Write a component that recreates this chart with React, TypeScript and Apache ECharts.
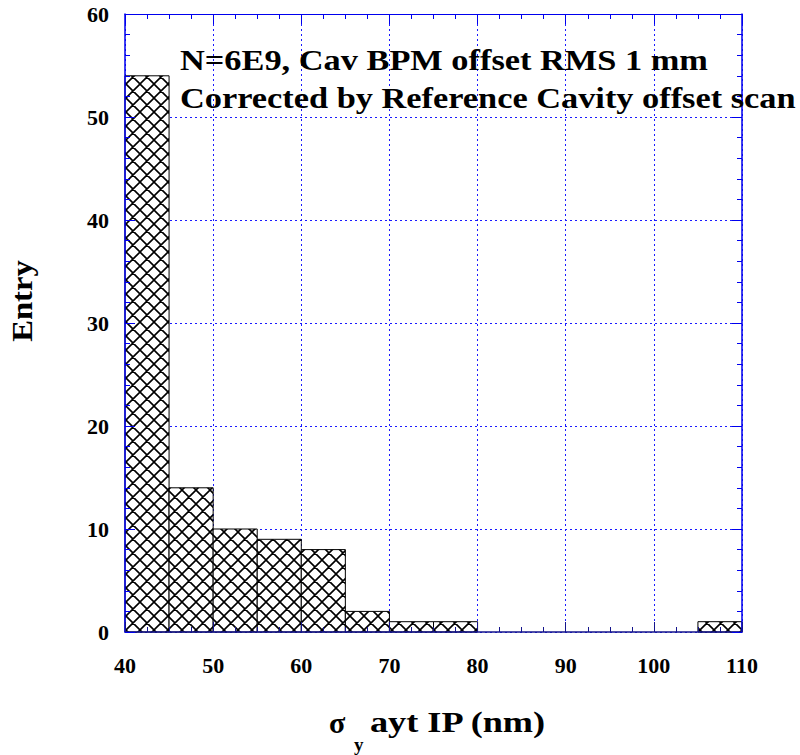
import React, { useEffect, useRef } from "react";
import * as echarts from "echarts";

const binStarts = [40, 45, 50, 55, 60, 65, 70, 75, 105];
const binWidth = 5;
const counts = [54, 14, 10, 9, 8, 2, 1, 1, 1];
const annotationLines = [
  "N=6E9, Cav BPM offset RMS 1 mm",
  "Corrected by Reference Cavity offset scan",
];
const yTitle = "Entry";
const xTitleSymbol = "σ";
const xTitleSub = "y";
const xTitleRest = "ayt IP (nm)";

const FONT = "'Liberation Serif', 'Times New Roman', serif";
const AXIS_BLUE = "#0000ee";
const AXIS_NAVY = "#14148c";

function makeHatch(): string {
  const s = 14;
  const c = document.createElement("canvas");
  c.width = s;
  c.height = s;
  const ctx = c.getContext("2d")!;
  ctx.fillStyle = "#fff";
  ctx.fillRect(0, 0, s, s);
  ctx.strokeStyle = "#000";
  ctx.lineWidth = 1.6;
  ctx.beginPath();
  for (const o of [-s, 0, s]) {
    ctx.moveTo(o, 0);
    ctx.lineTo(o + s, s);
    ctx.moveTo(o + s, 0);
    ctx.lineTo(o, s);
  }
  ctx.stroke();
  return c.toDataURL();
}

export default function App() {
  const ref = useRef<HTMLDivElement>(null);
  useEffect(() => {
    if (!ref.current) return;
    const chart = echarts.init(ref.current, null, { renderer: "svg" });
    const hatch = makeHatch();
    const data = binStarts.map((b, i) => [b, b + binWidth, counts[i]]);
    const labelStyle = {
      fontFamily: FONT,
      fontWeight: "bold" as const,
      fontSize: 22,
      color: "#000",
    };
    const gridSplit = {
      show: true,
      lineStyle: { color: "#1a1aff", type: [2, 3] as any, width: 1 },
    };
    const textBase = {
      fontFamily: FONT,
      fontWeight: "bold",
      fill: "#000",
    };
    chart.setOption({
      animation: false,
      backgroundColor: "#fff",
      grid: { left: 125, right: 58, top: 14, bottom: 123 },
      xAxis: [
        {
          type: "value",
          position: "bottom",
          min: 40,
          max: 110,
          interval: 10,
          z: 10,
          axisLine: { show: true, lineStyle: { color: AXIS_NAVY, width: 1.5 } },
          axisTick: { show: true, inside: true, length: 10, lineStyle: { color: AXIS_NAVY } },
          minorTick: { show: true, splitNumber: 4, length: 5, lineStyle: { color: AXIS_NAVY } },
          axisLabel: { ...labelStyle, margin: 22 },
          splitLine: { show: false },
        },
        {
          type: "value",
          position: "top",
          min: 40,
          max: 110,
          interval: 10,
          z: 10,
          axisLine: { show: true, onZero: false, lineStyle: { color: AXIS_BLUE, width: 1 } },
          axisTick: { show: true, inside: true, length: 10, lineStyle: { color: AXIS_BLUE } },
          minorTick: { show: true, splitNumber: 4, length: 5, lineStyle: { color: AXIS_BLUE } },
          axisLabel: { show: false },
          splitLine: { show: false },
        },
        {
          type: "value",
          position: "bottom",
          min: 40,
          max: 110,
          interval: 10,
          z: 0,
          axisLine: { show: false },
          axisTick: { show: false },
          axisLabel: { show: false },
          splitLine: gridSplit,
        },
      ],
      yAxis: [
        {
          type: "value",
          position: "left",
          min: 0,
          max: 60,
          interval: 10,
          z: 10,
          axisLine: { show: true, onZero: false, lineStyle: { color: AXIS_BLUE, width: 1.5 } },
          axisTick: { show: true, inside: true, length: 10, lineStyle: { color: AXIS_BLUE } },
          minorTick: { show: true, splitNumber: 5, length: 5, lineStyle: { color: AXIS_BLUE } },
          axisLabel: { ...labelStyle, margin: 16 },
          splitLine: { show: false },
        },
        {
          type: "value",
          position: "right",
          min: 0,
          max: 60,
          interval: 10,
          z: 10,
          axisLine: { show: true, onZero: false, lineStyle: { color: AXIS_BLUE, width: 1.5 } },
          axisTick: { show: true, inside: true, length: 10, lineStyle: { color: AXIS_BLUE } },
          minorTick: { show: true, splitNumber: 5, length: 5, lineStyle: { color: AXIS_BLUE } },
          axisLabel: { show: false },
          splitLine: { show: false },
        },
        {
          type: "value",
          position: "left",
          min: 0,
          max: 60,
          interval: 10,
          z: 0,
          axisLine: { show: false },
          axisTick: { show: false },
          axisLabel: { show: false },
          splitLine: gridSplit,
        },
      ],
      series: [
        {
          type: "custom",
          xAxisIndex: 0,
          yAxisIndex: 0,
          z: 5,
          data,
          encode: { x: [0, 1], y: 2 },
          renderItem: (params: any, api: any) => {
            const x0 = api.value(0);
            const x1 = api.value(1);
            const y = api.value(2);
            const p0 = api.coord([x0, y]);
            const p1 = api.coord([x1, 0]);
            return {
              type: "rect",
              shape: {
                x: p0[0],
                y: p0[1],
                width: p1[0] - p0[0],
                height: p1[1] - p0[1],
              },
              style: {
                fill: { image: hatch, repeat: "repeat" },
                stroke: "#000",
                lineWidth: 1,
              },
            };
          },
        },
      ],
      graphic: [
        {
          type: "text",
          x: 180,
          y: 45,
          scaleX: 1.145,
          z: 20,
          style: { ...textBase, text: annotationLines[0], fontSize: 30, verticalAlign: "top" },
        },
        {
          type: "text",
          x: 180,
          y: 83,
          scaleX: 1.145,
          z: 20,
          style: { ...textBase, text: annotationLines[1], fontSize: 30, verticalAlign: "top" },
        },
        {
          type: "text",
          x: 22,
          y: 301,
          rotation: Math.PI / 2,
          scaleX: 1.09,
          z: 20,
          style: {
            ...textBase,
            text: yTitle,
            fontSize: 30,
            align: "center",
            verticalAlign: "middle",
          },
        },
        {
          type: "text",
          x: 329,
          y: 722,
          z: 20,
          style: {
            ...textBase,
            text: xTitleSymbol,
            fontSize: 30,
            align: "left",
            verticalAlign: "middle",
          },
        },
        {
          type: "text",
          x: 354,
          y: 744,
          z: 20,
          style: {
            ...textBase,
            text: xTitleSub,
            fontSize: 19,
            align: "left",
            verticalAlign: "middle",
          },
        },
        {
          type: "text",
          x: 370,
          y: 722,
          scaleX: 1.25,
          z: 20,
          style: {
            ...textBase,
            text: xTitleRest,
            fontSize: 29,
            align: "left",
            verticalAlign: "middle",
          },
        },
      ],
    });
    return () => chart.dispose();
  }, []);
  return (
    <div
      ref={ref}
      style={{ position: "fixed", left: 0, top: 0, width: 800, height: 755 }}
    />
  );
}
